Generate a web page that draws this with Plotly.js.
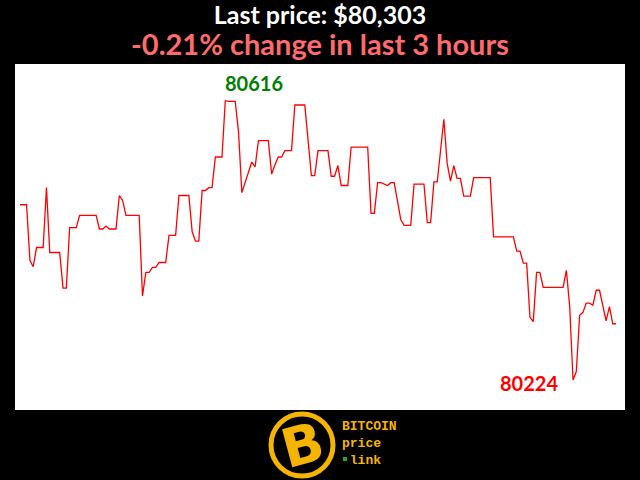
<!DOCTYPE html>
<html>
<head>
<meta charset="utf-8">
<script src="https://cdn.plot.ly/plotly-3.0.1.min.js"></script>
<style>html,body{margin:0;padding:0;background:#000;}#chart{width:640px;height:480px;}</style>
</head>
<body>
<div id="chart"></div>
<script>
// minutes since start of the 3-hour window (vertices of the price line)
const minutes = [0,2,3,4,5,7,8,9,12,13,14,15,17,18,23,24,25,26,27,29,30,31,32,36,37,38,39,40,41,42,44,45,47,48,51,52,53,54,55,56,57,58,59,61,62,63,65,66,67,68,70,71,72,75,76,77,78,79,80,82,83,86,88,89,90,93,94,95,96,97,99,100,105,106,107,108,109,111,112,113,115,116,118,119,122,123,124,125,126,128,129,130,131,132,133,134,136,137,142,143,149,150,151,152,153,154,155,156,157,158,164,165,166,167,168,169,170,171,172,173,174,175,177,178,179,180];
const prices = [80470,80470,80392,80383,80410,80410,80494,80403,80403,80353,80353,80438,80438,80455,80455,80436,80436,80440,80436,80436,80483,80476,80455,80455,80342,80375,80375,80382,80382,80389,80389,80427,80427,80483,80483,80432,80419,80419,80490,80490,80494,80494,80537,80537,80616,80615,80615,80572,80487,80502,80530,80523,80560,80560,80513,80526,80537,80537,80546,80546,80610,80610,80511,80511,80546,80546,80510,80510,80525,80497,80497,80551,80551,80458,80458,80501,80501,80497,80501,80501,80449,80441,80441,80499,80499,80445,80445,80502,80502,80590,80528,80503,80525,80507,80507,80482,80482,80508,80508,80425,80425,80405,80405,80388,80388,80312,80306,80375,80375,80354,80354,80378,80327,80224,80236,80315,80319,80332,80332,80329,80350,80350,80307,80327,80303,80303];
const lastPrice = "$80,303";
const changeText = "-0.21% change in last 3 hours";
const maxLabel = "80616";
const minLabel = "80224";
const logoLines = ["BITCOIN", "price", "\u00a0link"];

const maxIdx = prices.indexOf(Math.max(...prices));
const minIdx = prices.indexOf(Math.min(...prices));
const gold = '#f5b400';

const trace = {
  x: minutes, y: prices, type: 'scatter', mode: 'lines',
  line: {color: '#ff0000', width: 1.3}, hoverinfo: 'skip'
};

const layout = {
  width: 640, height: 480,
  paper_bgcolor: '#000000', plot_bgcolor: '#ffffff',
  margin: {l: 15, r: 15, t: 64, b: 70, pad: 0},
  showlegend: false,
  title: {
    text: 'Last price: ' + lastPrice,
    font: {family: 'Lato', size: 25, color: '#ffffff', weight: 'bold'},
    x: 0.5, xanchor: 'center', y: 1 - 15/480, yanchor: 'middle', yref: 'container'
  },
  xaxis: {range: [-1.5, 182.7], visible: false, fixedrange: true},
  yaxis: {range: [80182, 80667.5], visible: false, fixedrange: true},
  shapes: [
    {type: 'circle', xref: 'paper', yref: 'paper',
     x0: (271-15)/610, x1: (333-15)/610, y0: (410-476)/346, y1: (410-414)/346,
     line: {color: gold, width: 5}, fillcolor: '#000000'},
    {type: 'rect', xref: 'paper', yref: 'paper',
     x0: (343-15)/610, x1: (347-15)/610, y0: (410-461)/346, y1: (410-457)/346,
     line: {width: 0}, fillcolor: '#22aa22'}
  ],
  annotations: [
    {xref: 'paper', yref: 'paper', x: 0.5, y: (410-43)/346, xanchor: 'center', yanchor: 'middle',
     text: changeText, showarrow: false,
     font: {family: 'Lato', size: 29, color: '#ff6b6b', weight: 'bold'}},
    {x: minutes[maxIdx], y: prices[maxIdx], text: maxLabel, showarrow: false,
     xshift: 29, yshift: 18,
     font: {family: 'Lato', size: 20, color: '#008000', weight: 'bold'}},
    {x: minutes[minIdx], y: prices[minIdx], text: minLabel, showarrow: false,
     xshift: -44, yshift: -3,
     font: {family: 'Lato', size: 20, color: '#ff0000', weight: 'bold'}},
    {xref: 'paper', yref: 'paper', x: (302-15)/610, y: (410-445)/346, xanchor: 'center', yanchor: 'middle',
     text: 'B', showarrow: false, textangle: -15,
     font: {family: 'DejaVu Sans', size: 54, color: gold, weight: 'bold'}},
    {xref: 'paper', yref: 'paper', x: (340-15)/610, y: (410-443)/346, xanchor: 'left', yanchor: 'middle',
     align: 'left', text: logoLines.join('<br>'), showarrow: false,
     font: {family: 'Liberation Mono', size: 13, color: gold, weight: 'bold'}}
  ]
};

Plotly.newPlot('chart', [trace], layout, {staticPlot: true, displayModeBar: false});
</script>
</body>
</html>
